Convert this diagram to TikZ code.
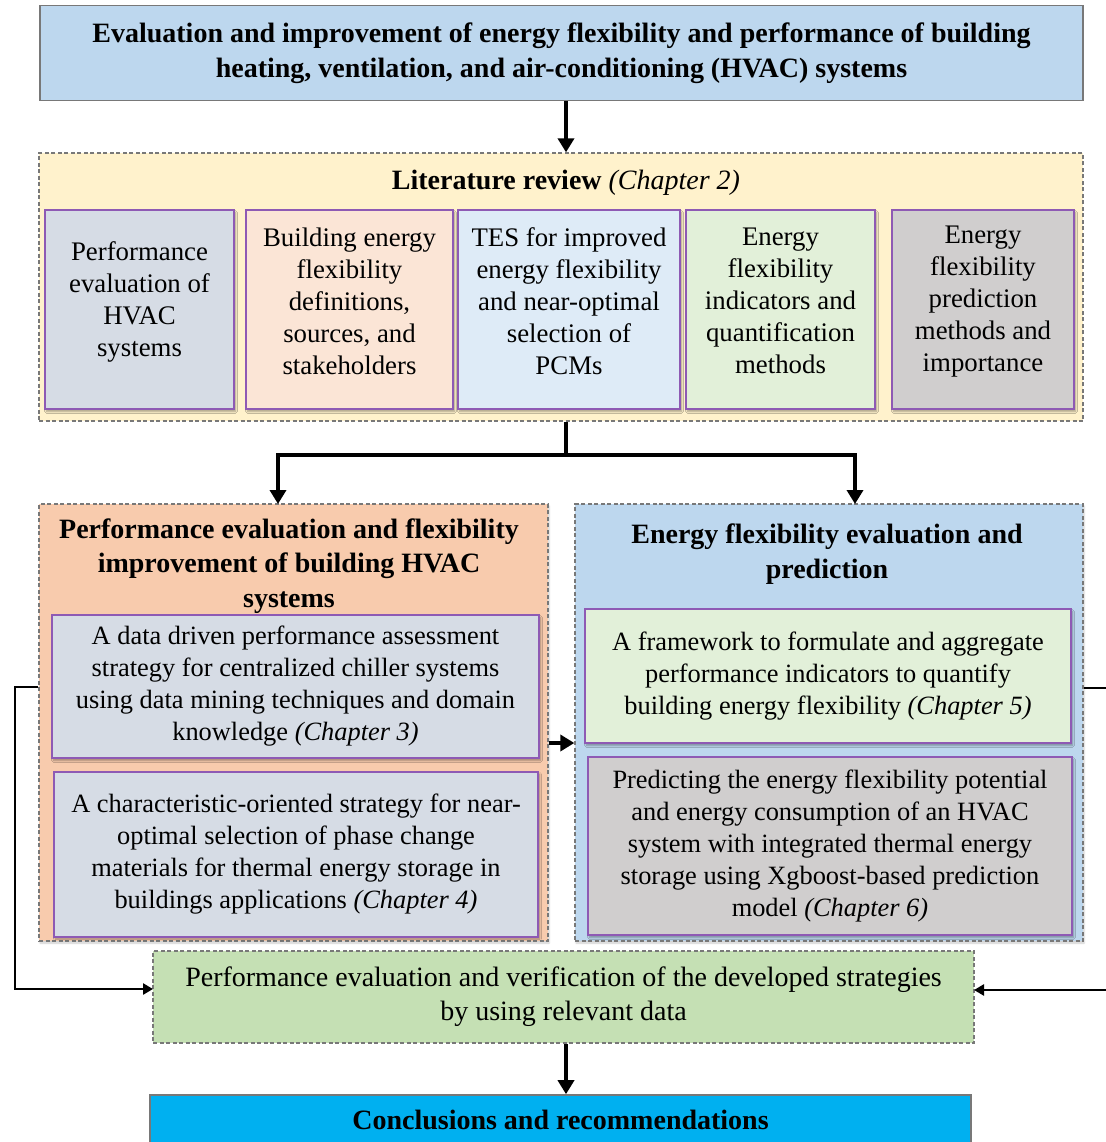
\documentclass[tikz,border=0pt]{standalone}
\usepackage{fontspec}
\setmainfont{Liberation Serif}
\usetikzlibrary{arrows.meta,shadows.blur,calc}

% palette
\definecolor{frame}{RGB}{120,120,120}
\definecolor{cardedge}{RGB}{142,90,180}
\definecolor{topblue}{HTML}{BDD7EE}
\definecolor{litfill}{HTML}{FFF2CC}
\definecolor{slatefill}{HTML}{D6DCE5}
\definecolor{peachfill}{HTML}{FBE5D6}
\definecolor{skyfill}{HTML}{DEEBF7}
\definecolor{mintfill}{HTML}{E2F0D9}
\definecolor{greyfill}{HTML}{D0CECE}
\definecolor{orangefill}{HTML}{F8CBAD}
\definecolor{verifyfill}{HTML}{C5E0B4}
\definecolor{conclfill}{HTML}{00B0F0}

\newcommand\bodyfont{\fontsize{26.4}{32}\selectfont}
\newcommand\litfont{\fontsize{26.8}{32}\selectfont}
\newcommand\verifyfont{\fontsize{28}{34}\selectfont}
\newcommand\headfont{\fontsize{28}{34.5}\selectfont\bfseries}

\tikzset{
  solidbox/.style={draw=frame, line width=1.6pt, inner sep=0pt, align=center, font=\headfont},
  panel/.style={draw=frame, line width=1.3pt, dash pattern=on 4pt off 2.5pt, inner sep=0pt},
  card/.style={draw=cardedge, line width=2pt, inner sep=0pt, align=center, font=\bodyfont,
    blur shadow={shadow xshift=1.5pt, shadow yshift=-2.5pt, shadow blur steps=6, shadow opacity=35}},
  cardtext/.style={align=center, font=\litfont, inner sep=0pt},
  heading/.style={align=center, font=\headfont, inner sep=0pt},
  flow/.style={line width=3.6pt, -{Triangle[width=16pt,length=14pt]}},
  trunk/.style={line width=3.6pt},
  loopback/.style={line width=2.6pt, -{Triangle[width=11pt,length=10pt]}},
}

\begin{document}
\begin{tikzpicture}[x=1pt, y=-1pt]
\useasboundingbox (0,0) rectangle (1105,1142);

% ---------- top statement ----------
\node[solidbox, fill=topblue, minimum width=1043pt, minimum height=95pt] (top) at (561.5,53)
  {Evaluation and improvement of energy flexibility and performance of building\\
   heating, ventilation, and air-conditioning (HVAC) systems};

% ---------- literature review ----------
\node[panel, fill=litfill, minimum width=1044pt, minimum height=268pt] (lit) at (561,287) {};
\node[heading] (littitle) at (566,183) {Literature review \textmd{\itshape (Chapter 2)}};

\node[card, fill=slatefill, minimum width=189pt, minimum height=199pt] (lr1) at (139.5,309.5) {};
\node[card, fill=peachfill, minimum width=207pt, minimum height=199pt] (lr2) at (349.5,309.5) {};
\node[card, fill=skyfill, minimum width=222pt, minimum height=199pt] (lr3) at (569,309.5) {};
\node[card, fill=mintfill, minimum width=189pt, minimum height=199pt] (lr4) at (780.5,309.5) {};
\node[card, fill=greyfill, minimum width=182pt, minimum height=199pt] (lr5) at (983,309.5) {};

\node[cardtext] (lr1t) at (139.5,302) {Performance\\evaluation of\\HVAC\\systems};
\node[cardtext] (lr2t) at (349.5,301) {Building energy\\flexibility\\definitions,\\sources, and\\stakeholders};
\node[cardtext] (lr3t) at (569,301) {TES for improved\\energy flexibility\\and near-optimal\\selection of\\PCMs};
\node[cardtext] (lr4t) at (780.5,301) {Energy\\flexibility\\indicators and\\quantification\\methods};
\node[cardtext] (lr5t) at (983,301.5) {Energy\\flexibility\\prediction\\methods and\\importance};

% ---------- performance / flexibility improvement ----------
\node[panel, fill=orangefill, minimum width=509pt, minimum height=437pt,
  blur shadow={shadow xshift=1pt, shadow yshift=-2pt, shadow opacity=20}] (perf) at (293.5,722.5) {};
\node[heading] (perftitle) at (289,566)
  {Performance evaluation and flexibility\\improvement of building HVAC\\systems};
\node[card, fill=slatefill, minimum width=487pt, minimum height=143pt] (ch3) at (295.5,686.5)
  {A data driven performance assessment\\strategy for centralized chiller systems\\using data mining techniques and domain\\knowledge \textit{(Chapter 3)}};
\node[card, fill=slatefill, minimum width=484pt, minimum height=165pt] (ch4) at (296,854)
  {A characteristic-oriented strategy for near-\\optimal selection of phase change\\materials for thermal energy storage in\\buildings applications \textit{(Chapter 4)}};

% ---------- flexibility evaluation / prediction ----------
\node[panel, fill=topblue, minimum width=508pt, minimum height=437pt,
  blur shadow={shadow xshift=1pt, shadow yshift=-2pt, shadow opacity=20}] (flex) at (829,722.5) {};
\node[heading] (flextitle) at (827,554)
  {Energy flexibility evaluation and\\prediction};
\node[card, fill=mintfill, minimum width=486pt, minimum height=134pt] (ch5) at (828,676)
  {A framework to formulate and aggregate\\performance indicators to quantify\\building energy flexibility \textit{(Chapter 5)}};
\node[card, fill=greyfill, minimum width=484pt, minimum height=178pt] (ch6) at (830,846)
  {Predicting the energy flexibility potential\\and energy consumption of an HVAC\\system with integrated thermal energy\\storage using Xgboost-based prediction\\model \textit{(Chapter 6)}};

% ---------- verification and conclusions ----------
\node[panel, fill=verifyfill, minimum width=821pt, minimum height=92pt, align=center, font=\verifyfont] (verify) at (563.5,997)
  {Performance evaluation and verification of the developed strategies\\by using relevant data};
\node[solidbox, fill=conclfill, minimum width=821pt, minimum height=50pt] (concl) at (560.5,1120)
  {Conclusions and recommendations};

% ---------- connectors ----------
\coordinate (spine) at (566,0);
\coordinate (split) at (566,455);
\coordinate (intoperf) at (278,504);
\coordinate (intoflex) at (855,504);
\coordinate (leftrail) at (15,687);
\coordinate (rightrail) at (1112,688);
\coordinate (leftin) at (153,989);
\coordinate (rightin) at (974,990);
\coordinate (bridge) at (0,743);

\draw[flow] (top.south -| spine) -- (lit.north -| spine);
\draw[trunk] (lit.south -| spine) -- (split);
\draw[flow] (split) -| (intoperf);
\draw[flow] (split) -| (intoflex);
\draw[flow] (perf.east |- bridge) -- (flex.west |- bridge);
\draw[loopback] (perf.west |- leftrail) -- (leftrail) |- (leftin);
\draw[loopback] (flex.east |- rightrail) -- (rightrail) |- (rightin);
\draw[flow] (verify.south -| spine) -- (concl.north -| spine);

\end{tikzpicture}
\end{document}
